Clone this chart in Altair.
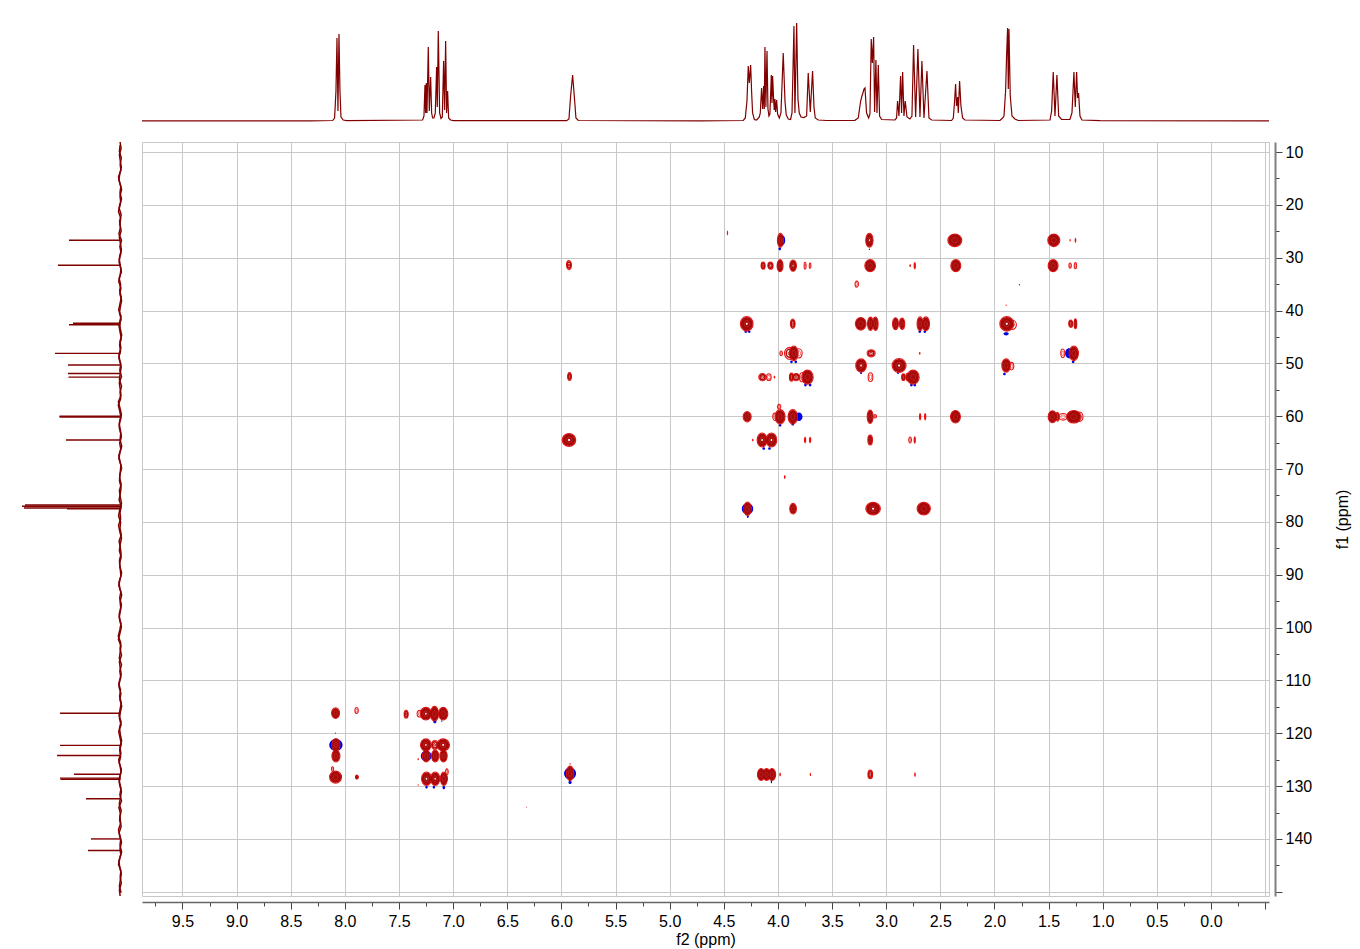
import altair as alt
import pandas as pd

# ---------- axes ----------
F2_DOMAIN = [9.874, -0.536]
F1_DOMAIN = [8.1, 150.8]
x_ticks = [i * 0.25 for i in range(-2, 40)]
y_ticks = [10 + i * 5 for i in range(0, 29)]
RED_DARK = "#800000"

# ---------- 1H trace (top) ----------
h_ppm = [9.874, 8.3225, 8.113, 8.095, 8.0824, 8.0731, 8.0639, 8.0546, 8.0454, 8.0362, 8.0146, 7.9838,
         7.2819, 7.2695, 7.2603, 7.2542, 7.2480, 7.2418, 7.2295, 7.2203, 7.2080, 7.1987, 7.1895, 7.1772,
         7.1649, 7.1526, 7.1464, 7.1372, 7.1248, 7.1125, 7.1002, 7.0879, 7.0787, 7.0694, 7.0602, 7.0510,
         7.0417, 7.0232, 6.9986, 5.9518, 5.9303, 5.9149, 5.8964, 5.8810, 5.8656, 5.8441,
         4.7202, 4.320, 4.3015, 4.286, 4.274, 4.2645, 4.252, 4.243, 4.234, 4.218, 4.197,
         4.172, 4.163, 4.151, 4.141, 4.132, 4.126, 4.120, 4.111, 4.101, 4.092, 4.083, 4.074, 4.061, 4.055,
         4.049, 4.040, 4.034, 4.028, 4.021, 4.012, 4.003, 3.987, 3.972, 3.951, 3.935, 3.923, 3.904, 3.883,
         3.870, 3.852, 3.843, 3.827, 3.815, 3.803, 3.787, 3.760, 3.735, 3.720, 3.701, 3.680, 3.667, 3.655,
         3.627, 3.550, 3.289, 3.258, 3.236, 3.224, 3.215, 3.205, 3.196, 3.181, 3.162, 3.150, 3.138, 3.128,
         3.116, 3.107, 3.095, 3.085, 3.073, 3.061, 3.042, 2.919, 2.904, 2.895, 2.882, 2.867, 2.858, 2.848,
         2.836, 2.824, 2.808, 2.781, 2.762, 2.747, 2.728, 2.707, 2.688, 2.670, 2.651, 2.6235, 2.605, 2.580,
         2.396, 2.380, 2.368, 2.359, 2.350, 2.340, 2.334, 2.322, 2.3095, 2.294, 2.273, 1.949, 1.925, 1.912,
         1.897, 1.888, 1.8785, 1.872, 1.866, 1.854, 1.838, 1.811, 1.780, 1.487, 1.472, 1.457, 1.441, 1.423,
         1.407, 1.380, 1.303, 1.284, 1.275, 1.266, 1.2535, 1.241, 1.232, 1.223, 1.210, 1.192, 1.026, -0.536]
h_int = [0.2, 0.2, 0.5, 3, 30, 83, 10, 87, 30, 4, 1, 0.3,
         1, 5, 36, 8, 38, 8, 74, 10, 44, 8, 3, 3,
         8, 54, 14, 90, 8, 2.5, 4, 60, 11, 80, 8, 30,
         3, 1, 0.3, 0.3, 2, 25, 46, 25, 3, 0.5,
         0.2, 0.5, 3, 20, 55, 38, 56, 29, 8, 1.5, 1,
         4, 8, 33, 12, 35, 12, 74, 14, 70, 12, 5, 7, 46, 18,
         45, 22, 11, 22, 9, 21, 7, 3, 8, 68, 20, 6, 2, 1.5,
         8, 95, 8, 98, 22, 8, 4, 3.5, 5, 48, 9, 50, 14, 3,
         1, 0.5, 0.7, 3, 20, 25, 28, 32, 33, 8, 3, 7, 82, 58,
         84, 9, 61, 8, 56, 5, 1.5, 1, 3, 20, 5, 45, 8, 49,
         5, 20, 4, 2, 5, 76, 4, 72, 4, 60, 3, 50, 3, 1,
         0.5, 3, 20, 37, 15, 24, 8, 40, 15, 3, 1, 0.5, 3, 5,
         30, 65, 93, 32, 92, 25, 5, 2, 0.5, 1, 10, 49, 5, 46,
         5, 1.5, 1.5, 8, 28, 49, 14, 49, 23, 28, 5, 1, 0.3, 0.2]

# ---------- 13C trace (left) ----------
c_ppm = [26.7, 31.44, 42.4, 42.7, 48.1, 50.3, 51.9, 52.6, 60.0, 60.15, 64.5, 76.8, 77.04, 77.36, 77.5,
         116.2, 122.3, 124.2, 127.75, 128.5, 128.7, 132.4, 140.0, 142.2]
c_int = [51.5, 62.5, 47.5, 51.5, 65.5, 52.5, 52.5, 52, 61, 61, 54.5, 95.5, 98.5, 96.5, 53.5,
         60.5, 60.5, 63.5, 46.5, 60.5, 60, 34.5, 29.5, 32.5]
c_noise = [0.4, -0.6, 1.1, 0.2, -0.8, 0.7, 1.6, -0.3, 0.5, -1.0, 0.9, 2.0, -0.2, 0.6, -0.7, 1.2, 0.1, -0.9, 0.8, 1.4,
           -0.5, 0.3, 1.8, -0.4, 0.6, -1.1, 0.2, 1.0, -0.6, 1.5, 0.4, -0.8, 0.9, 0.0, 1.7, -0.3, 0.7, -1.0, 1.2, 0.3,
           -0.5, 2.1, 0.5, -0.9, 0.8, 1.3, -0.2, 0.4, -1.2, 0.6, 1.6, -0.4, 0.2, 0.9, -0.7, 1.1, 0.3, -1.0, 0.7, 1.9,
           -0.1, 0.5, -0.8, 1.4, 0.2, -0.6, 1.0, 0.6, -1.1, 0.4, 1.7, -0.3, 0.8, -0.9, 0.1, 1.3, -0.5, 0.7, 2.2, -0.2,
           0.4, -1.0, 1.1, 0.3, -0.7, 0.9, 1.5, -0.4, 0.6, -1.2, 0.2, 1.0, -0.6, 1.8, 0.5, -0.8, 0.8, -0.1, 1.4, -0.9,
           0.3, 1.2, -0.5, 0.6, -1.0, 1.6, 0.1, 0.9, -0.7, 1.3, -0.2, 0.5, -1.1, 0.7, 2.0, -0.4, 0.3, -0.8, 1.1, 0.4]

# ---------- HMBC cross peaks: f2, f1, widths (ppm), contour depth ----------
peak_f2 = [4.466,
           3.977, 3.155, 2.366, 1.452, 1.301, 1.252,
           4.137, 4.069, 3.980, 3.860, 3.749, 3.703, 3.148, 2.779, 2.736, 2.357, 1.458, 1.301, 1.252, 5.930,
           3.272, 1.769, 1.892,
           4.288, 3.863, 3.235, 3.145, 3.099, 2.914, 2.853, 2.687, 2.634, 1.886, 1.837, 1.295, 1.252,
           3.970, 3.890, 3.853, 3.807, 3.139, 2.690, 1.369, 1.267,
           3.232, 2.881, 1.892, 1.843,
           4.143, 4.084, 4.032, 3.875, 3.832, 3.776, 3.727, 3.145, 2.841, 2.797, 2.751, 5.925,
           3.989,
           4.284, 4.029, 3.980, 3.863, 3.148, 3.102, 2.687, 2.640, 2.360, 1.464, 1.418, 1.366, 1.267, 1.212,
           4.232, 4.146, 4.060, 3.749, 3.703, 3.148, 2.779, 2.736, 5.930,
           3.937,
           4.281, 3.860, 3.121, 2.653,
           8.086, 7.892, 7.434, 7.308, 7.252, 7.172, 7.092,
           8.086, 8.083, 8.083, 8.086, 8.114, 7.889,
           7.252, 7.169, 7.092, 7.249, 7.166, 7.089, 7.323,
           7.246, 7.166, 7.086, 7.058, 7.323,
           5.920, 5.920, 6.323,
           4.155, 4.105, 4.055, 3.980, 3.700, 3.147, 2.734]
peak_f1 = [25.3,
           26.7, 26.7, 26.7, 26.7, 26.7, 26.7,
           31.5, 31.5, 31.5, 31.5, 31.5, 31.5, 31.5, 31.5, 31.5, 31.5, 31.5, 31.5, 31.5, 31.4,
           35.0, 35.1, 39.0,
           42.5, 42.5, 42.5, 42.5, 42.5, 42.5, 42.5, 42.5, 42.5, 42.5, 42.7, 42.5, 42.5,
           48.1, 48.1, 48.1, 48.1, 48.1, 48.1, 48.1, 48.1,
           50.4, 50.4, 50.4, 50.5,
           52.6, 52.6, 52.6, 52.6, 52.6, 52.6, 52.6, 52.6, 52.6, 52.6, 52.6, 52.5,
           58.2,
           60.1, 60.1, 60.1, 60.1, 60.1, 60.0, 60.1, 60.1, 60.1, 60.1, 60.1, 60.1, 60.1, 60.1,
           64.5, 64.5, 64.5, 64.5, 64.5, 64.5, 64.5, 64.5, 64.5,
           71.5,
           77.5, 77.5, 77.5, 77.5,
           116.2, 115.7, 116.4, 116.3, 116.3, 116.3, 116.3,
           120.0, 122.2, 124.3, 128.3, 126.8, 128.3,
           122.2, 122.2, 122.2, 124.3, 124.3, 124.3, 124.9,
           128.6, 128.6, 128.6, 127.3, 129.8,
           127.6, 125.8, 134.0,
           127.8, 127.8, 127.8, 127.8, 127.8, 127.8, 127.8]
peak_w = [.012,
          .055, .068, .129, .111, .012, .015,
          .037, .049, .055, .062, .018, .015, .099, .015, .022, .092, .092, .022, .022, .045,
          .031, .012, .012,
          .117, .043, .099, .055, .049, .055, .049, .055, .068, .129, .080, .037, .025,
          .025, .099, .080, .062, .074, .015, .037, .086,
          .099, .129, .080, .043,
          .068, .043, .015, .037, .068, .049, .105, .043, .031, .043, .111, .035,
          .031,
          .074, .037, .092, .086, .055, .025, .022, .022, .092, .080, .031, .080, .135, .060,
          .015, .092, .099, .022, .022, .043, .025, .022, .125,
          .015,
          .068, .062, .135, .123,
          .074, .031, .037, .049, .105, .074, .086,
          .012, .074, .074, .111, .020, .025,
          .099, .062, .117, .068, .068, .068, .012,
          .092, .086, .062, .025, .012,
          .068, .012, .008,
          .068, .068, .068, .015, .012, .043, .015]
peak_h = [.88,
          2.65, 2.65, 2.39, 2.39, .5, 1.0,
          1.39, 1.39, 2.27, 2.14, 1.26, 1.0, 2.27, .5, 1.39, 2.27, 2.27, 1.0, 1.13, 1.7,
          1.13, .3, .3,
          2.77, 1.76, 2.39, 2.52, 2.52, 2.27, 2.14, 2.65, 2.65, 2.77, 1.76, 1.39, 1.89,
          .88, 2.27, 2.77, 1.76, 1.39, .5, 1.64, 2.77,
          2.52, 2.65, 2.52, 1.39,
          1.39, 1.26, .5, 1.51, 1.39, 1.76, 2.65, 1.64, 1.26, 1.51, 2.65, 1.5,
          .88,
          2.0, 1.39, 2.77, 2.77, 2.52, .63, 1.39, 1.39, 2.39, 2.27, 1.64, 1.26, 2.39, 1.76,
          .5, 2.65, 2.65, 1.26, 1.26, 1.89, 1.13, 1.39, 2.4,
          .76,
          2.52, 2.0, 2.39, 2.39,
          2.0, 1.13, 1.51, 1.26, 2.39, 2.77, 2.39,
          .3, 2.39, 2.27, 2.27, .9, .76,
          2.27, 1.76, 2.27, 2.27, 2.27, 2.27, .4,
          2.52, 2.52, 2.52, 1.13, .3,
          2.77, .3, .15,
          2.27, 2.27, 2.27, .76, .63, 1.64, .88]
peak_level = [0,
              3, 4, 3, 3, 0, 0,
              2, 2, 3, 4, 1, 1, 3, 0, 0, 3, 3, 1, 1, 2,
              1, 0, 0,
              4, 2, 3, 3, 3, 3, 3, 3, 3, 4, 1, 2, 3,
              1, 2, 3, 1, 2, 0, 1, 3,
              4, 4, 3, 1,
              2, 1, 0, 2, 2, 1, 3, 1, 2, 2, 3, 2,
              1,
              3, 1, 3, 3, 3, 1, 0, 0, 3, 3, 2, 1, 3, 1,
              0, 4, 4, 0, 0, 3, 1, 0, 4,
              0,
              3, 3, 4, 3,
              3, 1, 2, 1, 4, 3, 3,
              0, 3, 3, 3, 1, 2,
              4, 2, 4, 3, 3, 3, 0,
              4, 4, 3, 1, 0,
              3, 0, 0,
              3, 3, 3, 0, 0, 2, 0]

# negative (blue) lobes
neg_f2 = [3.958, 3.983, 3.155, 3.985, 4.297, 4.266, 2.690, 2.643, 1.892, 3.875, 3.835, 1.310, 1.273, 1.252,
          3.232, 2.890, 1.908, 3.746, 3.703, 2.767, 2.736, 3.980, 3.863, 3.807, 4.131, 4.078, 4.281, 4.278,
          7.169, 7.172, 7.105, 8.083, 7.249, 7.086, 7.246, 7.178, 7.086, 5.920, 5.920, 4.060]
neg_f1 = [26.7, 28.3, 28.4, 31.5, 44.0, 44.0, 44.0, 44.0, 44.4, 49.7, 49.7, 48.1, 49.7, 42.5,
          51.8, 51.8, 52.0, 54.1, 54.1, 54.1, 54.1, 61.7, 61.5, 60.1, 66.1, 66.1, 77.5, 79.0,
          117.8, 116.3, 117.7, 122.2, 124.3, 128.6, 130.2, 130.2, 130.3, 127.6, 129.3, 129.2]
neg_w = [.05, .025, .012, .043, .025, .025, .025, .025, .05, .025, .025, .074, .025, .02,
         .018, .018, .025, .025, .025, .025, .025, .025, .025, .068, .025, .025, .105, .018,
         .03, .08, .012, .123, .099, .074, .022, .022, .025, .111, .03, .012]
neg_h = [1.89, .6, .3, 1.76, .45, .45, .45, .45, .6, .5, .5, 1.89, .5, 1.5,
         .4, .4, .5, .5, .5, .5, .5, .5, .5, 1.64, .5, .5, 2.14, .5,
         .6, 2.0, .3, 2.27, 2.0, 1.89, .5, .5, .6, 2.27, .6, .6]

# ---------- styling constants ----------
PX_PER_F2 = 108.26
PX_PER_F1 = 5.285
W, H = 1127, 754


def ellipse_path(a):
    return f"M0,-1A{a:.3f},1 0 1,1 0,1A{a:.3f},1 0 1,1 0,-1Z"


def build(f2, f1, w, h, level=None):
    df = pd.DataFrame({"f2": f2, "f1": f1, "w": w, "h": h})
    df["level"] = level if level is not None else 0
    wp = (df.w * PX_PER_F2).clip(lower=1.0)
    hp = (df.h * PX_PER_F1).clip(lower=1.0)
    df["path"] = [ellipse_path(a) for a in wp / hp]
    df["s"] = hp ** 2
    return df


peaks = build(peak_f2, peak_f1, peak_w, peak_h, peak_level)
neg = build(neg_f2, neg_f1, neg_w, neg_h)

xscale = alt.Scale(domain=F2_DOMAIN, nice=False, zero=False)
yscale = alt.Scale(domain=F1_DOMAIN, nice=False, zero=False, reverse=True)

x_axis = alt.Axis(
    orient="bottom", values=x_ticks, offset=6, title="f2 (ppm)", titleFont="Liberation Sans",
    titleFontSize=16, titleFontWeight="normal", titleColor="#000000", titlePadding=2,
    labelFont="Liberation Sans", labelFontSize=16, labelColor="#000000", labelPadding=4,
    labelOverlap=False, labelFlush=False, labelBound=False,
    labelExpr="(datum.value * 2) % 1 == 0 && datum.value >= 0 ? format(datum.value, '.1f') : ''",
    tickColor="#444444", tickWidth=1,
    tickSize={"condition": {"test": "(datum.value * 2) % 1 != 0", "value": 4}, "value": 7},
    domainColor="#666666", domainWidth=1.5,
    grid=True, gridColor="#c8c8c8", gridWidth=1,
    gridOpacity={"condition": {"test": "(datum.value * 2) % 1 != 0", "value": 0}, "value": 1},
)
y_axis = alt.Axis(
    orient="right", values=y_ticks, offset=6, title="f1 (ppm)", titleAngle=270, titleFont="Liberation Sans",
    titleFontSize=16, titleFontWeight="normal", titleColor="#000000", titlePadding=31,
    titleBaseline="middle",
    labelFont="Liberation Sans", labelFontSize=16, labelColor="#000000", labelPadding=3,
    labelOverlap=False, labelBound=False, labelFlush=False,
    labelExpr="datum.value % 10 == 0 && datum.value < 145 ? format(datum.value, 'd') : ''",
    tickColor="#444444", tickWidth=1,
    tickSize={"condition": {"test": "datum.value % 10 != 0", "value": 4}, "value": 7},
    domainColor="#808080", domainWidth=2,
    grid=True, gridColor="#c8c8c8", gridWidth=1,
    gridOpacity={"condition": {"test": "datum.value % 10 != 0", "value": 0}, "value": 1},
)


def layer(df, scale=1.0, **mark):
    d = df.copy()
    d["s"] = d["s"] * scale ** 2
    return alt.Chart(d).mark_point(opacity=1, **mark).encode(
        x=alt.X("f2:Q", scale=xscale, axis=x_axis),
        y=alt.Y("f1:Q", scale=yscale, axis=y_axis),
        shape=alt.Shape("path:N", scale=None),
        size=alt.Size("s:Q", scale=None),
    )


lv = peaks
main = alt.layer(
    layer(neg, filled=True, color="#0000e6"),
    layer(lv[lv.level == 0], filled=True, color="#f01010"),
    layer(lv[lv.level >= 1], filled=False, color="#e81818", strokeWidth=1.1),
    layer(lv[lv.level == 1], scale=0.55, filled=False, color="#f04040", strokeWidth=0.8),
    layer(lv[lv.level == 2], scale=0.68, filled=False, color="#b80c0c", strokeWidth=1.6),
    layer(lv[lv.level == 2], scale=0.3, filled=False, color="#b80c0c", strokeWidth=1.0),
    layer(lv[lv.level >= 3], scale=0.94, filled=True, color="#a80808"),
    layer(lv[lv.level >= 3], scale=0.42, filled=False, color="#b83030", strokeWidth=0.7),
    layer(lv[lv.level == 4], scale=0.15, filled=True, color="#ffffff"),
).properties(width=W, height=H, view=alt.ViewConfig(stroke="#c8c8c8", strokeWidth=1))

top = alt.Chart(pd.DataFrame({"f2": h_ppm, "i": h_int})).mark_line(
    color=RED_DARK, strokeWidth=1.2, interpolate="linear", clip=True
).encode(
    x=alt.X("f2:Q", scale=xscale, axis=None, sort=None),
    y=alt.Y("i:Q", scale=alt.Scale(domain=[-4, 98], nice=False, zero=False), axis=None),
    order=alt.Order("n:Q"),
).transform_window(n="row_number()").properties(width=W, height=102, view=alt.ViewConfig(stroke=None))

n_noise = len(c_noise)
noise_f1 = [F1_DOMAIN[0] + (F1_DOMAIN[1] - F1_DOMAIN[0]) * k / (n_noise - 1) for k in range(n_noise)]
noise_f1b = [v + 0.6 for v in noise_f1[:-1]]
xl = alt.Scale(domain=[98.5, -1.5], nice=False, zero=False)


def noise_line(f1_vals, values):
    return alt.Chart(pd.DataFrame({"f1": f1_vals, "v": values})).mark_line(
        color=RED_DARK, strokeWidth=1.5
    ).encode(
        x=alt.X("v:Q", scale=xl, axis=None),
        y=alt.Y("f1:Q", scale=yscale, axis=None),
        order=alt.Order("n:Q"),
    ).transform_window(n="row_number()")


left_sticks = alt.Chart(pd.DataFrame({"f1": c_ppm, "v": c_int, "b": [0] * len(c_ppm)})).mark_rule(
    color=RED_DARK, strokeWidth=1.4
).encode(
    x=alt.X("v:Q", scale=xl, axis=None),
    x2="b:Q",
    y=alt.Y("f1:Q", scale=yscale, axis=None),
)
left = alt.layer(
    noise_line(noise_f1, c_noise),
    noise_line(noise_f1b, c_noise[::-1][:-1]),
    left_sticks,
).properties(width=100, height=H, view=alt.ViewConfig(stroke=None))

blank = alt.Chart(pd.DataFrame({"a": [0]})).mark_point(opacity=0, size=1).encode(
    x=alt.X("a:Q", axis=None, scale=alt.Scale(domain=[-1, 1])),
    y=alt.Y("a:Q", axis=None, scale=alt.Scale(domain=[-1, 1])),
).properties(width=100, height=102, view=alt.ViewConfig(stroke=None))

chart = alt.concat(blank, top, left, main, columns=2, spacing={"row": 14, "column": 16}).properties(
    padding={"left": 13, "top": 15, "right": 0, "bottom": 0}, background="#ffffff"
).configure_view(stroke=None)

chart.save("out.html", embed_options={"renderer": "svg", "actions": False})
